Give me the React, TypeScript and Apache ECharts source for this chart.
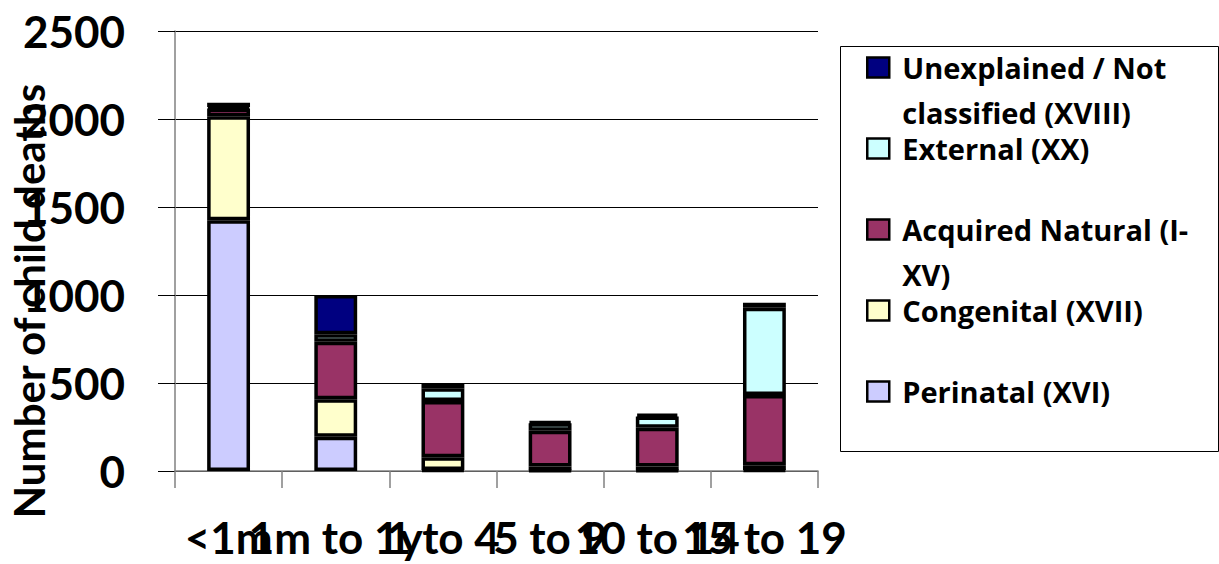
import { useEffect, useRef } from 'react';
import * as echarts from 'echarts';

// Child deaths by age group, stacked by category of cause
const ageGroups = ['<1m', '1m to 1y', '1 to 4', '5 to 9', '10 to 14', '15 to 19'];
const perinatal = [1425, 195, 5, 3, 3, 5];
const congenital = [590, 212, 73, 22, 22, 27];
const acquiredNatural = [45, 328, 320, 204, 221, 400];
const external = [8, 42, 72, 42, 63, 496];
const unexplained = [25, 223, 24, 9, 15, 28];

const seriesNames = [
  'Perinatal (XVI)',
  'Congenital (XVII)',
  'Acquired Natural (I-XV)',
  'External (XX)',
  'Unexplained / Not classified (XVIII)',
];
const seriesColors = ['#CCCCFF', '#FFFFCC', '#993366', '#CCFFFF', '#000080'];
const seriesValues = [perinatal, congenital, acquiredNatural, external, unexplained];

// Legend entries with their wrapped lines
const legendLines: Record<string, string[]> = {
  'Unexplained / Not classified (XVIII)': ['Unexplained / Not', 'classified (XVIII)'],
  'External (XX)': ['External (XX)'],
  'Acquired Natural (I-XV)': ['Acquired Natural (I-', 'XV)'],
  'Congenital (XVII)': ['Congenital (XVII)'],
  'Perinatal (XVI)': ['Perinatal (XVI)'],
};

const FONT = 'Lato';
const LEGEND_FONT = 'Open Sans';
const LEGEND_LH = 45;

// Every legend label is three lines tall with its first text line in the
// middle, so the swatch sits beside the first line of a wrapped label.
const legendLabel = (name: string) => {
  const lines = legendLines[name];
  return ['', lines[0], lines[1] ?? ''].join('\n');
};

export default function App() {
  const ref = useRef<HTMLDivElement>(null);

  useEffect(() => {
    if (!ref.current) return;
    const chart = echarts.init(ref.current, null, { renderer: 'svg' });

    chart.setOption({
      animation: false,
      backgroundColor: '#fff',
      textStyle: { fontFamily: FONT },
      grid: { left: 175, right: 401, top: 31, bottom: 93, containLabel: false, outerBoundsMode: 'none' },
      graphic: [
        {
          type: 'rect',
          left: 840,
          top: 46,
          z: -1,
          shape: { width: 378, height: 405 },
          style: { fill: '#fff', stroke: '#000', lineWidth: 1 },
        },
      ],
      legend: {
        orient: 'vertical',
        left: 866,
        top: 0,
        padding: 0,
        itemGap: 81 - 3 * LEGEND_LH,
        itemWidth: 22,
        itemHeight: 20,
        icon: 'rect',
        data: [...seriesNames].reverse(),
        formatter: legendLabel,
        textStyle: {
          fontFamily: LEGEND_FONT,
          fontSize: 29,
          fontWeight: 'bold',
          color: '#000',
          lineHeight: LEGEND_LH,
          padding: [0, 0, 0, 8],
        },
        itemStyle: { borderColor: '#000', borderWidth: 2.5 },
      },
      xAxis: {
        type: 'category',
        data: ageGroups,
        axisLine: { show: true, lineStyle: { color: '#808080', width: 1.5 } },
        axisTick: { show: true, length: 17, lineStyle: { color: '#808080', width: 1.5 } },
        axisLabel: {
          interval: 0,
          margin: 44,
          color: '#000',
          fontFamily: FONT,
          fontSize: 44,
          fontWeight: 'bold',
        },
      },
      yAxis: {
        type: 'value',
        min: 0,
        max: 2500,
        interval: 500,
        name: 'Number of child deaths',
        nameLocation: 'middle',
        nameRotate: 90,
        nameGap: 125,
        nameMoveOverlap: false,
        nameTextStyle: {
          fontFamily: FONT,
          fontSize: 42,
          fontWeight: 'bold',
          color: '#000',
          padding: [0, 100, 0, 0],
        },
        axisLine: { show: true, lineStyle: { color: '#808080', width: 1.5 } },
        axisTick: { show: true, length: 17, lineStyle: { color: '#000', width: 1 } },
        axisLabel: {
          margin: 50,
          color: '#000',
          fontFamily: FONT,
          fontSize: 44,
          fontWeight: 'bold',
          formatter: (v: number) => String(v),
        },
        splitLine: { show: true, lineStyle: { color: '#000', width: 1 } },
      },
      series: seriesNames.map((name, i) => ({
        name,
        type: 'bar',
        stack: 'deaths',
        barWidth: '40%',
        data: seriesValues[i],
        itemStyle: { color: seriesColors[i], borderColor: '#000', borderWidth: 3.5 },
      })),
    });

    return () => chart.dispose();
  }, []);

  return (
    <div
      ref={ref}
      style={{ position: 'fixed', left: 0, top: 0, width: 1219, height: 564, background: '#fff' }}
    />
  );
}
